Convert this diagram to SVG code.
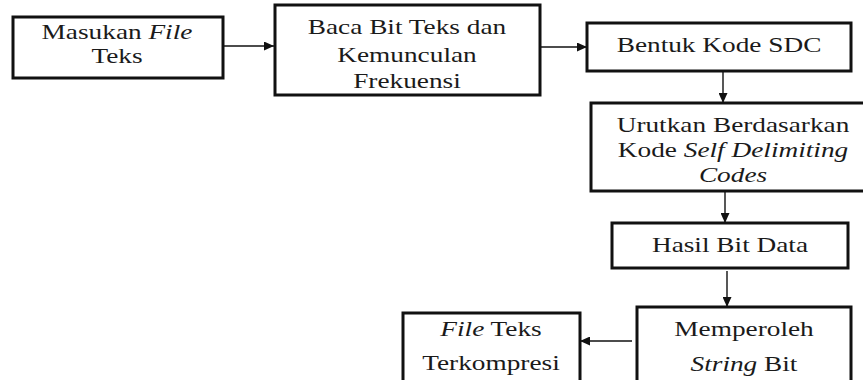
<svg xmlns="http://www.w3.org/2000/svg" width="863" height="380" viewBox="0 0 863 380">
<defs>
<style>
.box{fill:#fff;stroke:#111;stroke-width:3}
.t{font-size:21px;fill:#1a1a1a;text-anchor:middle}
.i{font-style:italic}
.c{stroke:#111;stroke-width:1.4;fill:none;marker-end:url(#ah)}
</style>
<marker id="ah" markerUnits="userSpaceOnUse" markerWidth="10" markerHeight="9" refX="10" refY="4.5" orient="auto">
<path d="M0,0 L10,4.5 L0,9 z" fill="#111"/>
</marker>
</defs>
<rect width="863" height="380" fill="#fff"/>
<g id="connectors">
<line class="c" x1="223" y1="46" x2="274" y2="46"/>
<line class="c" x1="540" y1="47" x2="587" y2="47"/>
<line class="c" x1="723" y1="71" x2="723" y2="103"/>
<line class="c" x1="725" y1="191" x2="725" y2="223"/>
<line class="c" x1="727" y1="271" x2="727" y2="307"/>
<line class="c" x1="632" y1="341" x2="580" y2="341"/>
</g>
<g font-family="Liberation Serif, Tinos, DejaVu Serif, serif">
<g id="n1">
<rect class="box" x="13" y="17" width="210" height="61"/>
<text class="t" transform="translate(117,39) scale(1.3,1)">Masukan <tspan class="i">File</tspan></text>
<text class="t" transform="translate(117,63) scale(1.3,1)">Teks</text>
</g>
<g id="n2">
<rect class="box" x="275" y="5" width="265" height="90"/>
<text class="t" transform="translate(407,34) scale(1.3,1)">Baca Bit Teks dan</text>
<text class="t" transform="translate(407,62) scale(1.3,1)">Kemunculan</text>
<text class="t" transform="translate(407,88) scale(1.3,1)">Frekuensi</text>
</g>
<g id="n3">
<rect class="box" x="587" y="23" width="264" height="48"/>
<text class="t" transform="translate(719,52) scale(1.3,1)">Bentuk Kode SDC</text>
</g>
<g id="n4">
<rect class="box" x="591" y="103" width="285" height="88"/>
<text class="t" transform="translate(733,132) scale(1.3,1)">Urutkan Berdasarkan</text>
<text class="t" transform="translate(733,157) scale(1.3,1)">Kode <tspan class="i">Self  Delimiting</tspan></text>
<text class="t i" transform="translate(733,182) scale(1.3,1)">Codes</text>
</g>
<g id="n5">
<rect class="box" x="612" y="223" width="236" height="45"/>
<text class="t" transform="translate(730,252) scale(1.3,1)">Hasil Bit Data</text>
</g>
<g id="n6">
<rect class="box" x="637" y="307" width="214" height="78"/>
<text class="t" transform="translate(744,336) scale(1.3,1)">Memperoleh</text>
<text class="t" transform="translate(744,371) scale(1.3,1)"><tspan class="i">String</tspan> Bit</text>
</g>
<g id="n7">
<rect class="box" x="403" y="313" width="177" height="72"/>
<text class="t" transform="translate(491,336) scale(1.3,1)"><tspan class="i">File</tspan> Teks</text>
<text class="t" transform="translate(491,370) scale(1.3,1)">Terkompresi</text>
</g>
</g>
</svg>
